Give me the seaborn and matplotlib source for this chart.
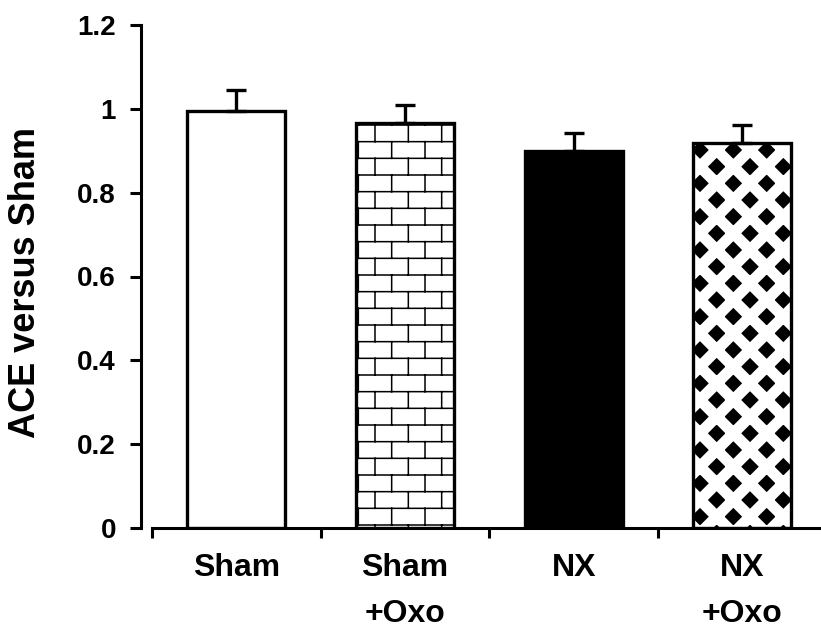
import warnings
import numpy as np
import matplotlib
matplotlib.use("Agg")
import matplotlib.pyplot as plt
import matplotlib.hatch as mhatch
from matplotlib.path import Path
import seaborn as sns

# data
groups = ["Sham", "Sham\n+Oxo", "NX", "NX\n+Oxo"]
ace = [0.995, 0.967, 0.899, 0.919]
sem = [0.050, 0.043, 0.043, 0.043]
fills = ["white", "white", "black", "black"]
patterns = [None, "b", None, "x"]   # 'b' = brick wall (custom), 'x' = basket weave look


class BrickHatch(mhatch.HatchPatternBase):
    # running bond brick wall: 6 courses x 3 bricks per hatch tile
    def __init__(self, hatch, density):
        self.rows = 6 if "b" in hatch else 0
        self.cols = 3
        self.num_vertices = (self.rows + (self.rows + 1) * self.cols) * 2 if self.rows else 0

    def set_vertices_and_codes(self, vertices, codes):
        r, c = self.rows, self.cols
        segs = []
        for i in range(r):
            y = (i + 0.5) / r
            segs.append(((0.0, y), (1.0, y)))
        for i in range(-1, r):
            y0, y1 = (i + 0.5) / r, (i + 1.5) / r
            off = 0.25 if i % 2 else 0.75
            for j in range(c):
                x = (j + off) / c
                segs.append(((x, y0), (x, y1)))
        segs = np.array(segs).reshape(-1, 2)
        vertices[:] = segs
        codes[0::2] = Path.MOVETO
        codes[1::2] = Path.LINETO


mhatch._hatch_types.append(BrickHatch)

sns.set_style("ticks")
plt.rcParams["font.family"] = ["Liberation Sans", "DejaVu Sans"]
plt.rcParams["font.weight"] = "bold"
plt.rcParams["text.color"] = "black"
plt.rcParams["axes.labelcolor"] = "black"
plt.rcParams["xtick.color"] = "black"
plt.rcParams["ytick.color"] = "black"
plt.rcParams["axes.edgecolor"] = "black"

fig = plt.figure(figsize=(8.21, 6.3), dpi=100)
ax = fig.add_axes([152 / 821, 102 / 630, 1 - 152 / 821, 503 / 630])

sns.barplot(x=groups, y=ace, hue=groups, palette=dict(zip(groups, fills)),
            legend=False, width=0.58, edgecolor="black", linewidth=2.4,
            errorbar=None, ax=ax)

for bar, pat in zip(ax.patches, patterns):
    if pat is None:
        continue
    with warnings.catch_warnings():
        warnings.simplefilter("ignore")
        bar.set_hatch(pat)
    if pat == "x":
        bar._hatch_color = (1, 1, 1, 1)
        lw = 8.0
    else:
        lw = 1.1
    if hasattr(bar, "set_hatch_linewidth"):
        bar.set_hatch_linewidth(lw)

ax.errorbar(x=np.arange(len(groups)), y=ace, yerr=[np.zeros(len(sem)), sem],
            fmt="none", ecolor="black", elinewidth=2.4, capsize=7.5, capthick=2.4)

ax.set_ylim(0, 1.2)
ax.set_xlim(-0.5, 3.466)
yt = [0, 0.2, 0.4, 0.6, 0.8, 1.0, 1.2]
ax.set_yticks(yt, ["0", "0.2", "0.4", "0.6", "0.8", "1", "1.2"])
ax.set_xticks([-0.5, 0.5, 1.5, 2.5], ["", "", "", ""])
ax.set_xticks(range(len(groups)), groups, minor=True, linespacing=1.7)

ax.tick_params(axis="y", direction="out", length=8, width=2.2, labelsize=20, pad=10)
ax.tick_params(axis="x", which="major", direction="out", length=7, width=2.2)
ax.tick_params(axis="x", which="minor", length=0, labelsize=23, pad=18)

for s in ["top", "right"]:
    ax.spines[s].set_visible(False)
ax.spines["left"].set_position(("outward", 8))
ax.spines["left"].set_bounds(0, 1.2)
ax.spines["left"].set_linewidth(2.2)
ax.spines["bottom"].set_linewidth(2.2)

ax.set_ylabel("ACE versus Sham", fontsize=26, fontweight="bold")
ax.yaxis.set_label_coords(0.052, 0.552, transform=fig.transFigure)

fig.savefig("out.png", dpi=100)
